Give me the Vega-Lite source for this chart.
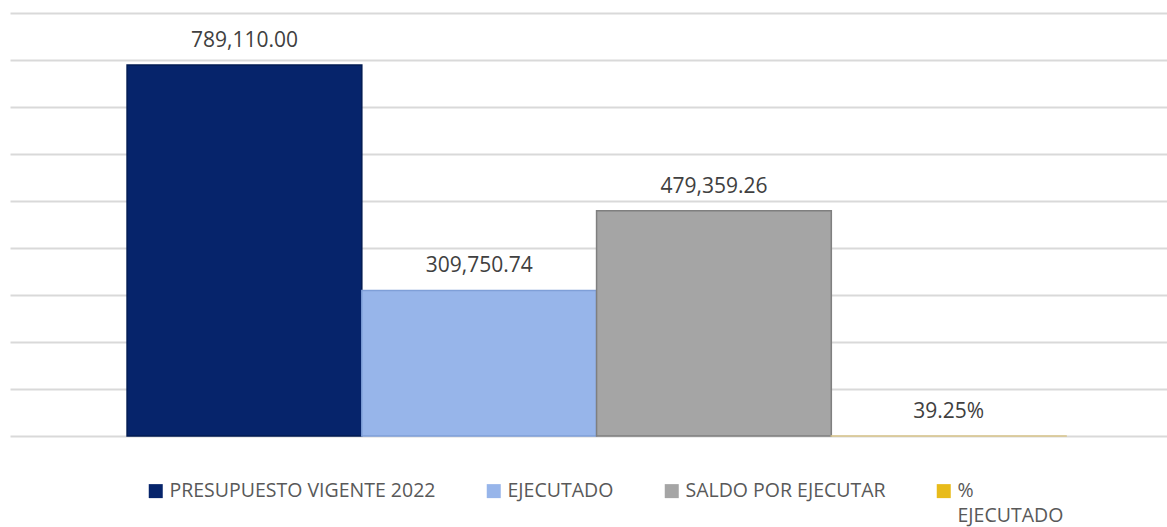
{
  "$schema": "https://vega.github.io/schema/vega-lite/v6.json",
  "width": 1157,
  "height": 423,
  "autosize": {"type": "none"},
  "padding": {"left": 10, "top": 13, "right": 0, "bottom": 91},
  "background": "#ffffff",
  "config": {"view": {"stroke": null}, "font": "Open Sans"},
  "data": {
    "values": [
      {"serie": "PRESUPUESTO VIGENTE 2022", "valor": 789110.00, "etiqueta": "789,110.00"},
      {"serie": "EJECUTADO", "valor": 309750.74, "etiqueta": "309,750.74"},
      {"serie": "SALDO POR EJECUTAR", "valor": 479359.26, "etiqueta": "479,359.26"},
      {"serie": "% EJECUTADO", "valor": 0.3925, "etiqueta": "39.25%"}
    ]
  },
  "encoding": {
    "x": {
      "field": "serie",
      "type": "nominal",
      "sort": null,
      "scale": {"paddingInner": 0, "paddingOuter": 0.4643, "align": 0.537},
      "axis": null
    },
    "y": {
      "field": "valor",
      "type": "quantitative",
      "scale": {"domain": [0, 900000], "nice": false},
      "axis": {
        "title": null,
        "labels": false,
        "ticks": false,
        "domain": false,
        "grid": true,
        "values": [0, 100000, 200000, 300000, 400000, 500000, 600000, 700000, 800000, 900000],
        "gridColor": "#d9d9d9",
        "gridWidth": 2
      }
    }
  },
  "layer": [
    {
      "mark": {"type": "bar", "strokeWidth": 1.5},
      "encoding": {
        "color": {
          "field": "serie",
          "type": "nominal",
          "sort": null,
          "scale": {
            "domain": ["PRESUPUESTO VIGENTE 2022", "EJECUTADO", "SALDO POR EJECUTAR", "% EJECUTADO"],
            "range": ["#06246b", "#97b5ea", "#a5a5a5", "#e8bb1a"]
          },
          "legend": {
            "orient": "none",
            "legendX": 136,
            "legendY": 468,
            "direction": "horizontal",
            "title": null,
            "symbolType": "square",
            "symbolSize": 196,
            "symbolStrokeWidth": 0,
            "labelFontSize": 19.5,
            "labelColor": "#595959",
            "labelOffset": 4,
            "columnPadding": 48,
            "labelLimit": 400,
            "labelExpr": "datum.label == '% EJECUTADO' ? ['%', 'EJECUTADO'] : [datum.label, '']",
            "encode": {
              "labels": {
                "update": {
                  "lineHeight": {"value": 25},
                  "dy": {"value": 0}
                }
              }
            }
          }
        },
        "stroke": {
          "field": "serie",
          "type": "nominal",
          "sort": null,
          "scale": {
            "domain": ["PRESUPUESTO VIGENTE 2022", "EJECUTADO", "SALDO POR EJECUTAR", "% EJECUTADO"],
            "range": ["#001a52", "#7f9fd8", "#7f7f7f", "#d8c48a"]
          },
          "legend": null
        }
      }
    },
    {
      "mark": {"type": "text", "baseline": "bottom", "dy": -14, "fontSize": 21, "color": "#404040"},
      "encoding": {"text": {"field": "etiqueta", "type": "nominal"}}
    }
  ]
}
